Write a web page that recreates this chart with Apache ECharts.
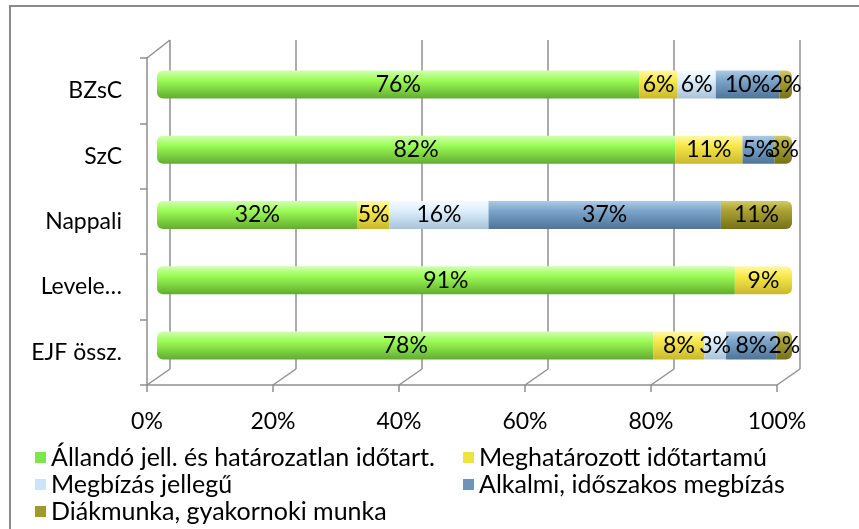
<!DOCTYPE html>
<html>
<head>
<meta charset="utf-8">
<script src="https://cdn.jsdelivr.net/npm/echarts@6/dist/echarts.min.js"></script>
<style>
  html, body { margin: 0; padding: 0; background: #fff; }
  #chart { width: 859px; height: 529px; }
</style>
</head>
<body>
<div id="chart"></div>
<script>
// adatok
const categories = ["BZsC", "SzC", "Nappali", "Levele…", "EJF össz."];
const seriesNames = [
  "Állandó jell. és határozatlan időtart.",
  "Meghatározott időtartamú",
  "Megbízás jellegű",
  "Alkalmi, időszakos megbízás",
  "Diákmunka, gyakornoki munka",
];
const allando = [76, 81.6, 31.6, 91, 78.2];
const meghatarozott = [6, 10.6, 5.0, 9, 8];
const megbizas = [6, 0, 15.6, 0, 3.4];
const alkalmi = [10, 5.0, 36.6, 0, 8];
const diakmunka = [2, 2.8, 11.2, 0, 2.4];
const xTicks = [0, 20, 40, 60, 80, 100];

const values = [allando, meghatarozott, megbizas, alkalmi, diakmunka];

// színek: [világos, közép, sötét, jelmagyarázat]
const colors = [
  ["#D2FFB0", "#9BFC55", "#62AC30", "#7EE646"],
  ["#FFF8A8", "#F8E94A", "#C9B82A", "#EDE343"],
  ["#F6FBFF", "#DDEFFD", "#A8C2D8", "#CCE4F8"],
  ["#AECAE4", "#7CA5CB", "#4E7498", "#6E94BC"],
  ["#D2CA66", "#A9A133", "#76701B", "#A09A2D"],
];

const W = 859, H = 529;
const font = "Lato";
const gridColor = "#8f8f8f";
const labelSize = 23;

// 3D hatás: első fal, hátsó fal, oszlopok síkja
const barGrid = { left: 157, right: 67, top: 52, bottom: 151 };
const frontGrid = { left: 147, right: 82, top: 58, bottom: 144 };
const backGrid = { left: 170, right: 59, top: 40, bottom: 160 };

const myChart = echarts.init(document.getElementById("chart"), null, { renderer: "canvas" });

const grad = (c) =>
  new echarts.graphic.LinearGradient(0, 0, 0, 1, [
    { offset: 0, color: c[0] },
    { offset: 0.35, color: c[1] },
    { offset: 1, color: c[2] },
  ]);

// lekerekítés az oszlopok két végén
const buildData = (si) =>
  values[si].map((v, ci) => {
    const isFirst = values.slice(0, si).every((arr) => arr[ci] === 0);
    const isLast = values.slice(si + 1).every((arr) => arr[ci] === 0);
    const r = [isFirst ? 6 : 0, isLast ? 6 : 0, isLast ? 6 : 0, isFirst ? 6 : 0];
    return { value: v, itemStyle: { borderRadius: r } };
  });

const series = seriesNames.map((name, si) => ({
  name: name,
  type: "bar",
  stack: "total",
  xAxisIndex: 0,
  yAxisIndex: 0,
  barWidth: 28,
  itemStyle: { color: grad(colors[si]) },
  label: {
    show: true,
    position: "inside",
    color: "#000",
    fontSize: labelSize,
    fontFamily: font,
    formatter: (p) => (p.value > 0 ? Math.round(p.value) + "%" : ""),
  },
  data: buildData(si),
}));

const legendItem = (i) => ({ name: seriesNames[i], itemStyle: { color: colors[i][3] } });
const legendBase = {
  orient: "vertical",
  top: 444,
  height: 85,
  padding: 0,
  itemWidth: 11,
  itemHeight: 11,
  itemGap: 0,
  icon: "rect",
  textStyle: { color: "#000", fontSize: 25, fontFamily: font, lineHeight: 27 },
};

let options = {
  animation: false,
  grid: [
    { ...barGrid },
    { ...frontGrid },
    { ...backGrid },
  ],
  xAxis: [
    { type: "value", gridIndex: 0, min: 0, max: 100, show: false },
    {
      type: "value",
      gridIndex: 1,
      min: 0,
      max: 100,
      interval: 20,
      axisLine: { show: true, lineStyle: { color: gridColor, width: 1.5 } },
      axisTick: { show: true, length: 7, lineStyle: { color: gridColor, width: 1.5 } },
      splitLine: { show: false },
      axisLabel: {
        formatter: "{value}%",
        color: "#000",
        fontSize: labelSize,
        fontFamily: font,
        margin: 25,
      },
    },
    {
      type: "value",
      gridIndex: 2,
      min: 0,
      max: 100,
      interval: 20,
      axisLine: { show: false },
      axisTick: { show: false },
      axisLabel: { show: false },
      splitLine: { show: true, lineStyle: { color: gridColor, width: 1.5 } },
    },
  ],
  yAxis: [
    { type: "category", gridIndex: 0, inverse: true, data: categories, show: false },
    {
      type: "category",
      gridIndex: 1,
      inverse: true,
      data: categories,
      axisLine: { show: true, lineStyle: { color: gridColor, width: 1.5 } },
      axisTick: { show: true, length: 7, lineStyle: { color: gridColor, width: 1.5 } },
      axisLabel: { color: "#000", fontSize: labelSize, fontFamily: font, margin: 25 },
    },
    { type: "value", gridIndex: 2, show: false },
  ],
  legend: [
    { ...legendBase, left: 35, data: [0, 2, 4].map(legendItem) },
    { ...legendBase, left: 463, data: [1, 3].map(legendItem) },
  ],
  series: series,
};

myChart.setOption(options);

// ferde vonalak az első és a hátsó fal között
const frontBottom = H - frontGrid.bottom;
const backBottom = H - backGrid.bottom;
const lineStyle = { stroke: gridColor, lineWidth: 1.5 };
const graphics = [
  {
    type: "rect",
    shape: { x: 10, y: 6, width: W, height: H },
    style: { fill: null, stroke: "#8a8a8a", lineWidth: 2 },
    silent: true,
  },
  {
    type: "line",
    shape: { x1: frontGrid.left, y1: frontGrid.top, x2: backGrid.left, y2: backGrid.top },
    style: lineStyle,
    silent: true,
  },
];
xTicks.forEach((v) => {
  const xf = myChart.convertToPixel({ xAxisIndex: 1 }, v);
  const xb = myChart.convertToPixel({ xAxisIndex: 2 }, v);
  graphics.push({
    type: "line",
    shape: { x1: xf, y1: frontBottom, x2: xb, y2: backBottom },
    style: lineStyle,
    silent: true,
    z: 0,
  });
});
myChart.setOption({ graphic: graphics });
</script>
</body>
</html>
